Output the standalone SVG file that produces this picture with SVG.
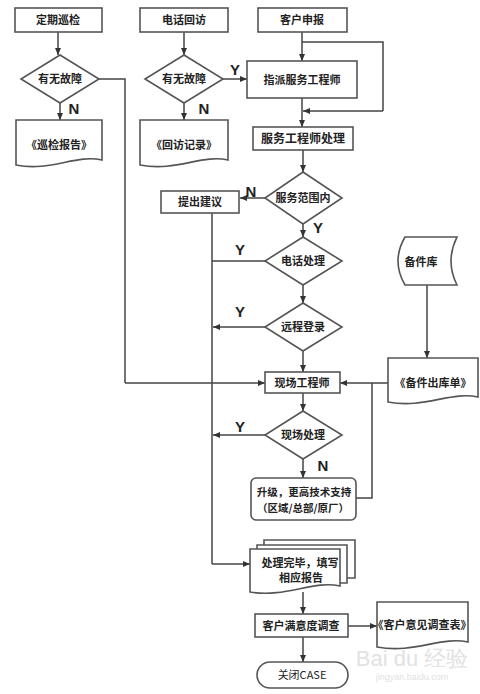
<svg xmlns="http://www.w3.org/2000/svg" width="480" height="694" viewBox="0 0 480 694">
<defs>
<marker id="ah" markerWidth="8" markerHeight="8" refX="7" refY="4" orient="auto" markerUnits="userSpaceOnUse">
<path d="M0,1 L7,4 L0,7 Z" fill="#333"/>
</marker>
<style>
.n{fill:#fff;stroke:#555;stroke-width:1.6}
.t{font-family:"Noto Sans CJK SC","Noto Sans",sans-serif;font-size:11px;fill:#222;text-anchor:middle;font-weight:bold}
.l{font-family:"Liberation Sans",Arial,sans-serif;font-size:15px;font-weight:bold;fill:#222;text-anchor:middle}
.c{fill:none;stroke:#444;stroke-width:1.5}
.ca{fill:none;stroke:#444;stroke-width:1.5;marker-end:url(#ah)}
.w{font-family:"Liberation Sans",Arial,sans-serif;fill:#e2e2e2;text-anchor:middle}
</style>
</defs>
<rect width="480" height="694" fill="#fff"/>

<g id="connectors">
<path class="ca" d="M58 32 V55"/>
<path class="ca" d="M60 103 V120"/>
<path class="c" d="M99 79 H125 V383"/>
<path class="ca" d="M125 383 H265"/>
<path class="ca" d="M184 32 V55"/>
<path class="ca" d="M184 103 V120"/>
<path class="ca" d="M223 79 H247"/>
<path class="ca" d="M302 32 V61"/>
<path class="c" d="M302 42 H383 V111"/>
<path class="ca" d="M383 111 H303"/>
<path class="ca" d="M302 98 V127"/>
<path class="ca" d="M303 150 V172"/>
<path class="ca" d="M265 198 H240"/>
<path class="c" d="M212 213 V564"/>
<path class="ca" d="M212 564 H250"/>
<path class="ca" d="M303 224 V237"/>
<path class="c" d="M265 261 H212"/>
<path class="ca" d="M303 285 V303"/>
<path class="ca" d="M265 327 H213"/>
<path class="ca" d="M303 351 V372"/>
<path class="ca" d="M427 285 V358"/>
<path class="c" d="M388 383 H372"/>
<path class="c" d="M356 498 H372 V383"/>
<path class="ca" d="M372 383 H340"/>
<path class="ca" d="M303 393 V411"/>
<path class="ca" d="M265 435 H213"/>
<path class="ca" d="M303 459 V478"/>
<path class="ca" d="M303 592 V614"/>
<path class="ca" d="M348 626 H377"/>
<path class="ca" d="M303 637 V662"/>
</g>

<g id="n-dingqi"><rect class="n" x="15" y="8" width="87" height="24"/><text class="t" x="58" y="24">定期巡检</text></g>
<g id="n-youwu1"><path class="n" d="M60 55 L99 79 L60 103 L21 79 Z"/><text class="t" x="60" y="83">有无故障</text></g>
<g id="n-xunjian"><path class="n" d="M16 120 H102 V160 C76 154 50 172 16 165 Z"/><text class="t" x="59" y="149">《巡检报告》</text></g>

<g id="n-dianhua"><rect class="n" x="140" y="8" width="88" height="24"/><text class="t" x="184" y="24">电话回访</text></g>
<g id="n-youwu2"><path class="n" d="M184 55 L223 79 L184 103 L145 79 Z"/><text class="t" x="184" y="83">有无故障</text></g>
<g id="n-huifang"><path class="n" d="M140 120 H228 V160 C202 154 176 172 140 165 Z"/><text class="t" x="184" y="149">《回访记录》</text></g>

<g id="n-kehu"><rect class="n" x="258" y="8" width="89" height="24"/><text class="t" x="302" y="24">客户申报</text></g>
<g id="n-zhipai"><rect class="n" x="247" y="61" width="110" height="37"/><text class="t" x="302" y="84">指派服务工程师</text></g>
<g id="n-fuwu"><rect class="n" x="253" y="127" width="100" height="23"/><text class="t" x="303" y="143" style="font-size:12px">服务工程师处理</text></g>
<g id="n-fanwei"><path class="n" d="M303 172 L342 198 L303 224 L265 198 Z"/><text class="t" x="303" y="202">服务范围内</text></g>
<g id="n-tichu"><rect class="n" x="161" y="191" width="78" height="22"/><text class="t" x="200" y="206">提出建议</text></g>
<g id="n-dhcl"><path class="n" d="M303 237 L342 261 L303 285 L265 261 Z"/><text class="t" x="303" y="265">电话处理</text></g>
<g id="n-yuancheng"><path class="n" d="M303 303 L342 327 L303 351 L265 327 Z"/><text class="t" x="303" y="331">远程登录</text></g>
<g id="n-beijianku"><path class="n" d="M405 237 H457 Q445 261 457 285 H405 Q391 261 405 237 Z"/><text class="t" x="421" y="266">备件库</text></g>
<g id="n-chuku"><path class="n" d="M388 358 H478 V397 C451 391 424 409 388 402 Z"/><text class="t" x="433" y="387">《备件出库单》</text></g>
<g id="n-xianchang"><rect class="n" x="265" y="372" width="75" height="21"/><text class="t" x="302" y="387">现场工程师</text></g>
<g id="n-xccl"><path class="n" d="M303 411 L342 435 L303 459 L265 435 Z"/><text class="t" x="303" y="439">现场处理</text></g>
<g id="n-shengji"><rect class="n" x="251" y="478" width="105" height="42" rx="5"/><text class="t" x="304" y="496" style="font-size:10.5px">升级，更高技术支持</text><text class="t" x="303" y="512" style="font-size:10.5px">（区域/总部/原厂）</text></g>
<g id="n-wanbi">
<path class="n" d="M264 545 V540 H355 V578 H347"/>
<path class="n" d="M257 549 V545 H347 V583 H340"/>
<path class="n" d="M250 549 H340 V586 C313 580 286 598 250 592 Z"/>
<text class="t" x="300" y="567">处理完毕，填写</text><text class="t" x="301" y="582">相应报告</text>
</g>
<g id="n-manyi"><rect class="n" x="255" y="614" width="93" height="23"/><text class="t" x="301" y="630">客户满意度调查</text></g>
<g id="n-yijian"><path class="n" d="M377 602 H468 V642 C441 636 414 654 377 647 Z"/><text class="t" x="422" y="629">《客户意见调查表》</text></g>
<g id="n-guanbi"><rect class="n" x="257" y="662" width="91" height="26" rx="13"/><text class="t" x="302" y="679" style="font-weight:normal">关闭CASE</text></g>

<g id="labels">
<text class="l" x="74" y="114">N</text>
<text class="l" x="235" y="75">Y</text>
<text class="l" x="204" y="114">N</text>
<text class="l" x="251" y="197">N</text>
<text class="l" x="318" y="233">Y</text>
<text class="l" x="240" y="255">Y</text>
<text class="l" x="240" y="317">Y</text>
<text class="l" x="240" y="432">Y</text>
<text class="l" x="323" y="471">N</text>
</g>

<g id="watermark">
<text class="w" x="412" y="666" style="font-size:22px">Bai du 经验</text>
<text class="w" x="412" y="680" style="font-size:9px">jingyan.baidu.com</text>
</g>
</svg>
